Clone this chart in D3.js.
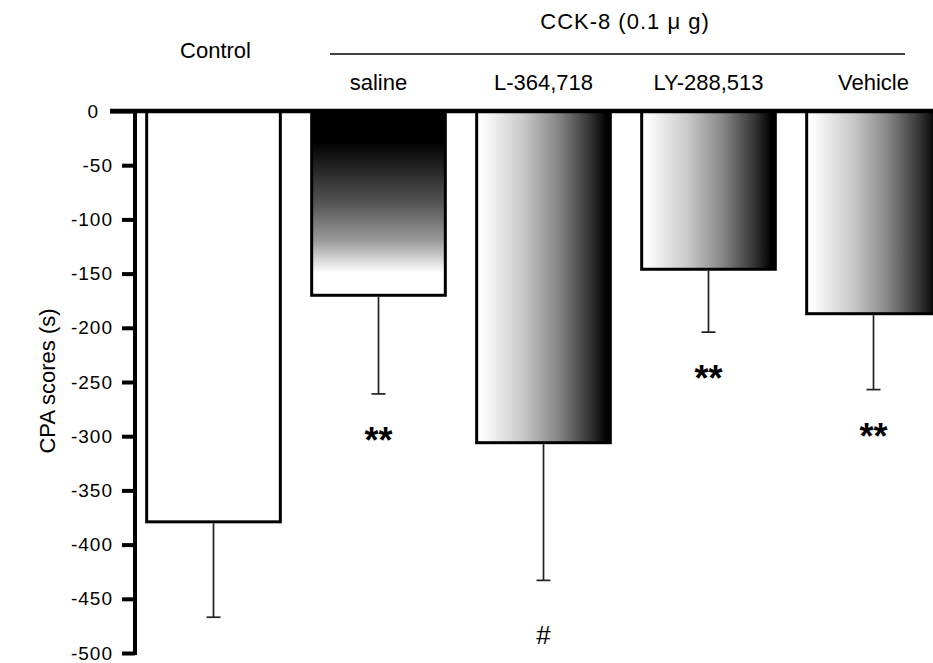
<!DOCTYPE html>
<html><head><meta charset="utf-8">
<script src="https://cdn.jsdelivr.net/npm/d3@7"></script>
<style>
body{margin:0;background:#fff;}
svg{display:block;}
text{font-family:Arial,"Liberation Sans",Helvetica,sans-serif;fill:#000;}
</style>
</head><body>
<svg id="chart" width="933" height="663"></svg>
<script>
// ---- data ----
const categories = ["Control", "saline", "L-364,718", "LY-288,513", "Vehicle"];
const means = [-379, -170, -306, -146, -187];
const errors = [88, 91, 127, 58, 70];
const marks = ["", "**", "#", "**", "**"];
const fills = ["white", "vgrad", "hgrad", "hgrad", "hgrad"];
const yTicks = [0, -50, -100, -150, -200, -250, -300, -350, -400, -450, -500];
const groupLabel = "CCK-8 (0.1 \u03bc g)";
const yTitle = "CPA scores (s)";

const svg = d3.select("#chart");
const defs = svg.append("defs");

const vg = defs.append("linearGradient").attr("id", "vgrad")
  .attr("x1", 0).attr("y1", 0).attr("x2", 0).attr("y2", 1);
[[0, "#000"], [0.17, "#000"], [0.5, "#555"], [0.7, "#999"], [0.88, "#fff"], [1, "#fff"]]
  .forEach(([o, c]) => vg.append("stop").attr("offset", o).attr("stop-color", c));

const hg = defs.append("linearGradient").attr("id", "hgrad")
  .attr("x1", 0).attr("y1", 0).attr("x2", 1).attr("y2", 0);
[[0, "#fff"], [0.06, "#fafafa"], [0.35, "#c8c8c8"], [0.6, "#888"], [0.85, "#333"], [0.97, "#000"], [1, "#000"]]
  .forEach(([o, c]) => hg.append("stop").attr("offset", o).attr("stop-color", c));

const x = d3.scaleBand().domain(categories).range([131, 956])
  .paddingInner(0.19).paddingOuter(0.095);
const y = d3.scaleLinear().domain([0, -500]).range([111, 653]);

const data = categories.map((c, i) => ({c, m: means[i], e: errors[i], mark: marks[i], fill: fills[i]}));

// bars
svg.append("g").selectAll("rect").data(data).join("rect")
  .attr("x", d => x(d.c))
  .attr("y", y(0))
  .attr("width", x.bandwidth())
  .attr("height", d => y(d.m) - y(0))
  .attr("fill", d => d.fill === "white" ? "#fff" : `url(#${d.fill})`)
  .attr("stroke", "#000").attr("stroke-width", 3);

// error bars
const eg = svg.append("g").attr("stroke", "#222").attr("stroke-width", 1.7);
eg.selectAll("line.v").data(data).join("line").attr("class", "v")
  .attr("x1", d => x(d.c) + x.bandwidth() / 2).attr("x2", d => x(d.c) + x.bandwidth() / 2)
  .attr("y1", d => y(d.m) + 1.5).attr("y2", d => y(d.m - d.e));
eg.selectAll("line.h").data(data).join("line").attr("class", "h")
  .attr("x1", d => x(d.c) + x.bandwidth() / 2 - 7).attr("x2", d => x(d.c) + x.bandwidth() / 2 + 7)
  .attr("y1", d => y(d.m - d.e)).attr("y2", d => y(d.m - d.e));

// significance marks
svg.append("g").selectAll("text").data(data.filter(d => d.mark)).join("text")
  .attr("x", d => x(d.c) + x.bandwidth() / 2)
  .attr("y", d => d.mark === "#" ? y(d.m - d.e) + 64 : y(d.m - d.e) + 59)
  .attr("text-anchor", "middle")
  .style("font-size", d => d.mark === "#" ? "26px" : "36px")
  .style("font-weight", d => d.mark === "#" ? "normal" : "bold")
  .text(d => d.mark);

// y axis
const yAxis = d3.axisLeft(y).tickValues(yTicks).tickSize(13).tickPadding(9).tickFormat(d => String(d));
const ag = svg.append("g").attr("transform", "translate(135,0)").call(yAxis);
ag.select(".domain").remove();
ag.selectAll(".tick line").attr("stroke", "#000").attr("stroke-width", 4);
ag.selectAll(".tick text").style("font-size", "19px").style("letter-spacing", "1px")
  .style("font-family", "Arial, 'Liberation Sans', sans-serif").attr("fill", "#111");
ag.selectAll(".tick").filter(d => d === 0).select("text").attr("x", -36);
ag.selectAll(".tick").filter(d => d === 0).select("line").attr("x2", -25);
svg.append("line").attr("x1", 135).attr("x2", 135).attr("y1", y(0) - 2).attr("y2", y(-500) + 2)
  .attr("stroke", "#000").attr("stroke-width", 4);
svg.append("line").attr("x1", 110).attr("x2", 933).attr("y1", y(0)).attr("y2", y(0))
  .attr("stroke", "#000").attr("stroke-width", 4.5);

// category labels
svg.append("g").selectAll("text").data(data).join("text")
  .attr("x", d => x(d.c) + x.bandwidth() / 2 + (d.c === "Control" ? 2 : 0))
  .attr("y", d => d.c === "Control" ? 58 : 90)
  .attr("text-anchor", "middle")
  .style("font-size", "22px")
  .text(d => d.c);

// group bracket
svg.append("line").attr("x1", 330).attr("x2", 905).attr("y1", 54).attr("y2", 54)
  .attr("stroke", "#000").attr("stroke-width", 1.5);
svg.append("text").attr("x", 625).attr("y", 29).attr("text-anchor", "middle")
  .style("font-size", "22px").style("letter-spacing", "1px").text(groupLabel);

// y title
svg.append("text").attr("transform", "translate(55,381) rotate(-90)")
  .attr("text-anchor", "middle").style("font-size", "22px").text(yTitle);
</script>
</body></html>
